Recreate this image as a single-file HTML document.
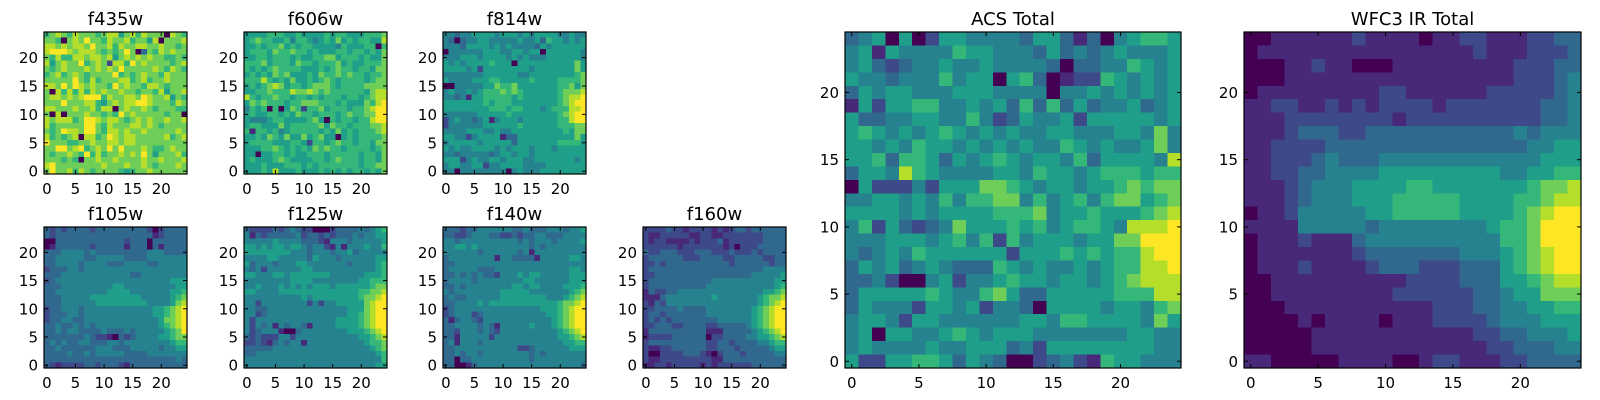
<!DOCTYPE html>
<html><head><meta charset="utf-8"><style>
html,body{margin:0;padding:0;background:#fff;}
svg{display:block;font-family:"DejaVu Sans","Liberation Sans",sans-serif;}
</style></head><body>
<svg id="fig" width="1600" height="400" viewBox="0 0 1600 400" xmlns="http://www.w3.org/2000/svg"></svg>
<script>
const xTicks=[0,5,10,15,20];
const yTicks=[0,5,10,15,20];
const tickLabels=["0","5","10","15","20"];
// rows listed top (y=24) to bottom (y=0); digits 0-9 are intensity levels
const f435w=["6787687776788578687770876","7760787977687786775807778","8878788797786877887787767","8999878887676797037687877","7686688788785787878776676","8578779678728869787777678","7678777878787977777876876","6786787677779676787768777","7777797686777886786778777","8879798787769787768876777","7086868687877877677685778","7887878999687788798778576","7779777886578788998777687","8877787786880787787677766","7080777877676978777776770","8788867998788767878778778","8677777997687778878767777","7679887997688787787777787","8676780886798788777778678","9777667787788788777777777","7799789678797977787667877","7677876968677878797577786","7776760778778777787787778","8977777777877787787677787","7977868767777656778777777"];
const f606w=["5555666556555565665556667","5676655646654565756566558","5565667565665555465556606","5666576676656555665665657","5566566656556677566656557","6667566657665666756556667","6565676666555656766566577","5656576755565766767665667","6668656575565676566665677","5656787566567776566667777","5566766687787676666665788","8656676656656566656656788","5767666566777666565557689","4656060576266756665667899","5655665657665666567667799","5444566555567506566566899","5665557566666757665666778","6166564566666565756566678","5565765755756755056566667","5666655566526656766566577","5556676565657676656666567","5505566565566656666656657","5655567655556656766656657","5556555666565666666656677","5556585556555656565665657"];
const f814w=["4434455554555454555544544","4303445544444544536554545","4443555545454444354555555","0444444555445545505555554","4445554555545454445555554","5454555565550555555555575","5555452555555554555555575","4444444555555445555555567","5444455566555556555566667","0044444557667555555566757","4544545666767655555567778","4434155666665655555567889","5555555656665555555567899","5555555566656655545666889","4444445555565555555567899","2454434514555455555566899","2444444555555655555566677","4444555445445555555556577","5544245555133555555555575","4555554555553555555566665","5454455554545554555455555","4434444434554554555555555","5552454455455544555555545","4554455244555544445555555","4404444444404544455555555"];
const f105w=["3232333323333333332023333","3233333333333333333123333","0033333333333323330333333","0133333323333313330313333","3334444343333333334443333","3344444334444433334444444","3344443444433344443344444","2333443444444444444444444","3334444444444443344444444","2344444444444444444444555","3334444444445544444444455","3344444444455554444444556","3334444455555555544444567","3334444445555555554444578","2334443444444444444556789","2333443444444444444556789","2334433444444444444457789","3343343434444444444456789","3343443333433343444445679","3333333432210323444455677","3434334433344344444444566","3343333334443334444434455","3333433434444433334444444","3333333333333333333333343","3212222332333213333333333"];
const f125w=["3222232343220002333343456","4132333334233232333434455","4444454444333214443444445","5545455455434421414445446","5555555544434443445344444","4444554444435444344444455","5344434445544444443444456","4342444444554444444444456","5544455455555554444445556","4444444455554444444455666","4454445454545554555555677","5544445555555555555566778","4444444444545555555567789","4424444444424244555557899","4433444444444444445557899","4423444444444444445567899","4244444444444444555567899","4243414344314444555567899","4234441003444444445556789","3232224424444444444455678","2232134344144444444445667","3333344444444444444444567","3344444444444444444444456","4444444444444444444444446","4444444444444444444444455"];
const f140w=["3332334444443343334443445","3322344433223233443334444","4434444444444343444344445","4455454444444443434444444","4444443444444341444444444","3444444441443333144444554","3344444444444444444444444","3444443334444444444444554","3343434332444545544444555","3444434444444455444444555","3343444444445545544445556","4344444444555554444444567","3433444444555555554445678","3344445455555555555567789","2344444444444444455567899","2344423444444444445567899","3134432444444444444567899","3344443431444445444567899","3324443432444444444456789","3314444424444444444455678","3414443444444444444445566","3344444444444223444444555","3343443444444443434444444","3303344444444443444444444","3300134444444444444444443"];
const f160w=["2222322122221212332333333","2112222211221122222223333","2122111121222312222223333","2222221222222212022233333","3223332223332223222323333","2333333222333322333332233","2232333333333332333333233","2333333333333333333334444","2233333333333333333444445","2333333333334444444444455","2333333333344444444444456","1322334444444444444445567","1113444444445444444456778","2132444444444444444456789","2233334333344444444567899","2332333333344444444567899","2323233333333444444567899","2233322333322333334567899","1333333333311133333456789","1222233333302233334455678","2333333333322332333344566","2112233333322333233333455","2002222333210233323333344","2112222222221133333333333","1122122222121222222333333"];
const acsTotal=["3450502554444355313045665","4515444465544435343454445","4532344544544443033446545","5443444645505630122654545","3545544455544440445454545","1525566445453636353445345","5334455446423544525555545","5654545654545445544455474","5545465545454544654544574","5563665354565455463555548","3554865444455465545666566","0522242555776545545567677","4455454646677464564677567","5555454555566674556555678","4625323475556564566548889","4445554564626455545577999","4345465555552555656566899","3545345433365454454566889","3342004524456554554567888","3555556544675335555566688","3544425545244305555455467","4554255444444554665555475","4505544565455544444445544","4544445445553425555555544","5225566535430023421655444"];
const wfc3Total=["0011111121111011221112233","0111111111111111121112223","0001121100011111111122233","0001111111111111111122234","0111111111221111112222234","1122112121222212222222334","1112222222212222222222334","1112333223333333333343444","1122223333333333333334455","1122234333444444444444555","1122334444555555555445566","1112344455556655555556778","1112344455566666555566788","0112444445566666555567899","1111444443444444445667999","0111211134444444444667999","0111111123333333444567899","0111211112333222333567899","0011111111112222333556788","0011111111122222233455777","0001111111111122233445566","0000101111011122223444555","0000011111111111122334445","0000011111111111112233344","1100000111100122111223333"];
const titles=["f435w","f606w","f814w","f105w","f125w","f140w","f160w","ACS Total","WFC3 IR Total"];
const datasets=[f435w,f606w,f814w,f105w,f125w,f140w,f160w,acsTotal,wfc3Total];
const boxes=[[44,32,143,142],[244,32,143,142],[443,32,143,142],[44,227,143,141],[244,227,143,141],[443,227,143,141],[643,227,143,141],[845,32,336,336],[1244,32,337,336]];
const viridis=["#440154","#482878","#3e4989","#31688e","#26828e","#1f9e89","#35b779","#6ece58","#b5de2b","#fde725"];
const NS="http://www.w3.org/2000/svg";
const svg=document.getElementById('fig');
function mk(tag,attrs,parent){const e=document.createElementNS(NS,tag);for(const k in attrs)e.setAttribute(k,attrs[k]);parent.appendChild(e);return e;}
datasets.forEach((data,p)=>{
  const [x0,y0,w,h]=boxes[p];
  const n=25;
  const xs=v=>x0+(v+0.5)*w/n;
  const ys=v=>y0+h-(v+0.5)*h/n;
  const cw=w/n,ch=h/n;
  const g=mk('g',{},svg);
  
  
  const img=mk('g',{'shape-rendering':'crispEdges'},g);
  
  
  data.forEach((row,r)=>{
    const yv=n-1-r;
    for(let c=0;c<row.length&&c<n;c++){
      const lvl=+row[c];
      const rc=mk('rect',{x:(xs(c)-cw/2).toFixed(2),y:(ys(yv)-ch/2).toFixed(2),width:(cw+0.4).toFixed(2),height:(ch+0.4).toFixed(2),fill:viridis[lvl]},img);
      
      
    }
  });
  const fr=mk('rect',{x:x0,y:y0,width:w,height:h,fill:'none',stroke:'#000','stroke-width':1.2},g);
  
  
  xTicks.forEach((t,i)=>{
    const x=xs(t);
    mk('line',{x1:x,y1:y0+h,x2:x,y2:y0+h-4,stroke:'#000','stroke-width':1},g);
    mk('line',{x1:x,y1:y0,x2:x,y2:y0+4,stroke:'#000','stroke-width':1},g);
    const tx=mk('text',{x:x,y:y0+h+20,'font-size':15,'text-anchor':'middle',fill:'#000'},g);
    tx.textContent=tickLabels[i];
    
    
  });
  yTicks.forEach((t,i)=>{
    const y=ys(t);
    mk('line',{x1:x0,y1:y,x2:x0+4,y2:y,stroke:'#000','stroke-width':1},g);
    mk('line',{x1:x0+w,y1:y,x2:x0+w-4,y2:y,stroke:'#000','stroke-width':1},g);
    const ty=mk('text',{x:x0-6,y:y+5.5,'font-size':15,'text-anchor':'end',fill:'#000'},g);
    ty.textContent=tickLabels[i];
    
    
  });
  const tt=mk('text',{x:x0+w/2,y:y0-7,'font-size':18,'text-anchor':'middle',fill:'#000'},g);
  tt.textContent=titles[p];
  
  
});
</script>
</body></html>
